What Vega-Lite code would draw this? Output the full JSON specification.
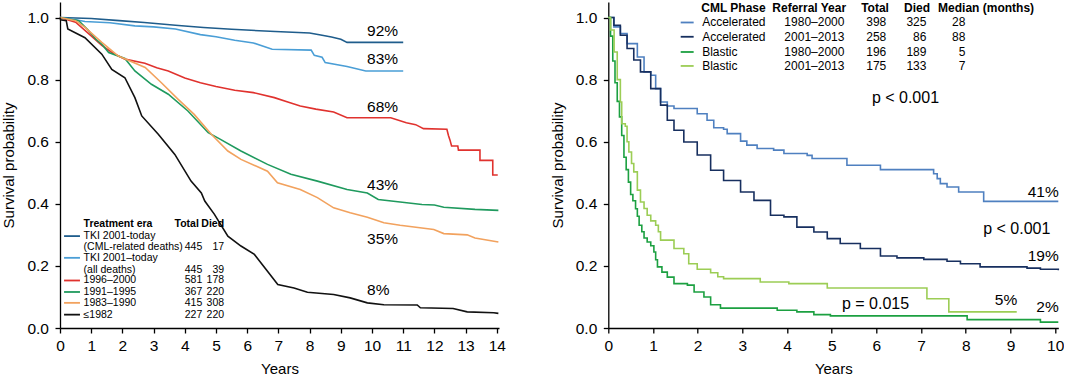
{
  "$schema": "https://vega.github.io/schema/vega-lite/v6.json",
  "padding": {"left": 1, "top": 1, "right": 0, "bottom": 0},
  "background": "white",
  "spacing": 109.3,
  "bounds": "flush",
  "resolve": {"scale": {"color": "independent"}},
  "config": {
    "font": "Liberation Sans",
    "view": {"stroke": null},
    "axis": {
      "domainColor": "black", "domainWidth": 1.3, "tickColor": "black", "tickWidth": 1.3, "tickSize": 5,
      "labelFontSize": 15.5, "labelColor": "black", "titleFontSize": 15, "titleFontWeight": "normal", "titleColor": "black",
      "grid": false, "labelFont": "Liberation Sans", "titleFont": "Liberation Sans", "labelOverlap": false
    },
    "axisY": {"labelPadding": 6.5, "titlePadding": 10},
    "axisX": {"labelPadding": 5, "titlePadding": 8, "labelFlush": false},
    "text": {"font": "Liberation Sans", "color": "black", "baseline": "middle"}
  },
  "datasets": {
    "left": [
      {"series":"TKI CML","t":0,"s":1.0},{"series":"TKI CML","t":1.0,"s":0.997},{"series":"TKI CML","t":1.9,"s":0.99},{"series":"TKI CML","t":2.7,"s":0.984},{"series":"TKI CML","t":3.7,"s":0.975},{"series":"TKI CML","t":4.6,"s":0.968},{"series":"TKI CML","t":5.5,"s":0.962},{"series":"TKI CML","t":6.9,"s":0.955},{"series":"TKI CML","t":8.0,"s":0.95},{"series":"TKI CML","t":8.4,"s":0.943},{"series":"TKI CML","t":8.7,"s":0.937},{"series":"TKI CML","t":9.0,"s":0.93},{"series":"TKI CML","t":9.2,"s":0.92},{"series":"TKI CML","t":11.0,"s":0.92},
      {"series":"TKI all","t":0,"s":1.0},{"series":"TKI all","t":0.5,"s":0.993},{"series":"TKI all","t":0.8,"s":0.987},{"series":"TKI all","t":1.6,"s":0.983},{"series":"TKI all","t":2.4,"s":0.973},{"series":"TKI all","t":3.0,"s":0.97},{"series":"TKI all","t":3.7,"s":0.963},{"series":"TKI all","t":4.5,"s":0.945},{"series":"TKI all","t":5.0,"s":0.938},{"series":"TKI all","t":5.6,"s":0.927},{"series":"TKI all","t":6.2,"s":0.918},{"series":"TKI all","t":6.8,"s":0.898},{"series":"TKI all","t":8.05,"s":0.895},{"series":"TKI all","t":8.15,"s":0.878},{"series":"TKI all","t":8.4,"s":0.872},{"series":"TKI all","t":8.5,"s":0.855},{"series":"TKI all","t":9.2,"s":0.842},{"series":"TKI all","t":9.8,"s":0.828},{"series":"TKI all","t":11.0,"s":0.828},
      {"series":"1996","t":0,"s":1.0},{"series":"1996","t":0.5,"s":0.985},{"series":"1996","t":0.9,"s":0.95},{"series":"1996","t":1.34,"s":0.91},{"series":"1996","t":1.7,"s":0.885},{"series":"1996","t":2.08,"s":0.866},{"series":"1996","t":2.72,"s":0.853},{"series":"1996","t":3.1,"s":0.838},{"series":"1996","t":3.47,"s":0.828},{"series":"1996","t":4.0,"s":0.805},{"series":"1996","t":4.5,"s":0.79},{"series":"1996","t":5.0,"s":0.778},{"series":"1996","t":5.6,"s":0.766},{"series":"1996","t":6.2,"s":0.758},{"series":"1996","t":6.87,"s":0.742},{"series":"1996","t":7.3,"s":0.728},{"series":"1996","t":7.7,"s":0.715},{"series":"1996","t":8.2,"s":0.705},{"series":"1996","t":8.77,"s":0.696},{"series":"1996","t":9.2,"s":0.677},{"series":"1996","t":10.6,"s":0.677},{"series":"1996","t":11.1,"s":0.661},{"series":"1996","t":11.4,"s":0.655},{"series":"1996","t":11.65,"s":0.642},{"series":"1996","t":12.4,"s":0.64},{"series":"1996","t":12.45,"s":0.62},{"series":"1996","t":12.5,"s":0.605},{"series":"1996","t":12.55,"s":0.586},{"series":"1996","t":12.75,"s":0.586},{"series":"1996","t":12.77,"s":0.573},{"series":"1996","t":13.46,"s":0.573},{"series":"1996","t":13.46,"s":0.54},{"series":"1996","t":13.87,"s":0.54},{"series":"1996","t":13.87,"s":0.493},{"series":"1996","t":14.03,"s":0.493},
      {"series":"1991","t":0,"s":1.0},{"series":"1991","t":0.6,"s":0.99},{"series":"1991","t":0.9,"s":0.96},{"series":"1991","t":1.15,"s":0.93},{"series":"1991","t":1.34,"s":0.914},{"series":"1991","t":1.56,"s":0.887},{"series":"1991","t":2.08,"s":0.868},{"series":"1991","t":2.4,"s":0.828},{"series":"1991","t":2.93,"s":0.785},{"series":"1991","t":3.47,"s":0.753},{"series":"1991","t":4.1,"s":0.699},{"series":"1991","t":4.75,"s":0.629},{"series":"1991","t":5.1,"s":0.61},{"series":"1991","t":5.8,"s":0.57},{"series":"1991","t":6.65,"s":0.527},{"series":"1991","t":7.4,"s":0.495},{"series":"1991","t":8.25,"s":0.473},{"series":"1991","t":9.2,"s":0.446},{"series":"1991","t":9.85,"s":0.435},{"series":"1991","t":10.2,"s":0.414},{"series":"1991","t":10.9,"s":0.406},{"series":"1991","t":11.6,"s":0.398},{"series":"1991","t":12.0,"s":0.396},{"series":"1991","t":12.3,"s":0.389},{"series":"1991","t":13.3,"s":0.382},{"series":"1991","t":14.05,"s":0.379},
      {"series":"1983","t":0,"s":1.0},{"series":"1983","t":0.5,"s":0.99},{"series":"1983","t":0.8,"s":0.968},{"series":"1983","t":1.34,"s":0.92},{"series":"1983","t":1.87,"s":0.876},{"series":"1983","t":2.73,"s":0.839},{"series":"1983","t":3.25,"s":0.79},{"series":"1983","t":3.78,"s":0.737},{"series":"1983","t":4.3,"s":0.688},{"series":"1983","t":4.85,"s":0.624},{"series":"1983","t":5.38,"s":0.57},{"series":"1983","t":5.8,"s":0.543},{"series":"1983","t":6.65,"s":0.505},{"series":"1983","t":6.97,"s":0.468},{"series":"1983","t":7.7,"s":0.446},{"series":"1983","t":8.25,"s":0.42},{"series":"1983","t":8.77,"s":0.387},{"series":"1983","t":9.3,"s":0.371},{"series":"1983","t":9.85,"s":0.357},{"series":"1983","t":10.38,"s":0.339},{"series":"1983","t":10.9,"s":0.331},{"series":"1983","t":11.98,"s":0.317},{"series":"1983","t":12.3,"s":0.304},{"series":"1983","t":13.05,"s":0.3},{"series":"1983","t":13.3,"s":0.29},{"series":"1983","t":14.05,"s":0.277},
      {"series":"1982","t":0,"s":1.0},{"series":"1982","t":0.02,"s":0.993},{"series":"1982","t":0.2,"s":0.99},{"series":"1982","t":0.25,"s":0.963},{"series":"1982","t":0.8,"s":0.935},{"series":"1982","t":1.34,"s":0.882},{"series":"1982","t":1.66,"s":0.833},{"series":"1982","t":2.08,"s":0.806},{"series":"1982","t":2.4,"s":0.742},{"series":"1982","t":2.62,"s":0.683},{"series":"1982","t":3.15,"s":0.624},{"series":"1982","t":3.68,"s":0.559},{"series":"1982","t":4.2,"s":0.473},{"series":"1982","t":4.53,"s":0.435},{"series":"1982","t":4.64,"s":0.409},{"series":"1982","t":4.95,"s":0.366},{"series":"1982","t":5.38,"s":0.296},{"series":"1982","t":5.8,"s":0.264},{"series":"1982","t":6.23,"s":0.237},{"series":"1982","t":6.65,"s":0.183},{"series":"1982","t":6.98,"s":0.14},{"series":"1982","t":7.5,"s":0.129},{"series":"1982","t":7.93,"s":0.115},{"series":"1982","t":8.77,"s":0.108},{"series":"1982","t":9.3,"s":0.097},{"series":"1982","t":9.85,"s":0.081},{"series":"1982","t":10.38,"s":0.075},{"series":"1982","t":11.45,"s":0.074},{"series":"1982","t":11.55,"s":0.065},{"series":"1982","t":12.6,"s":0.063},{"series":"1982","t":13.05,"s":0.052},{"series":"1982","t":13.9,"s":0.049},{"series":"1982","t":14.05,"s":0.047}
    ],
    "right": [
      {"phase":"A1980","t":0,"s":1.0},{"phase":"A1980","t":0.125,"s":0.97},{"phase":"A1980","t":0.27,"s":0.948},{"phase":"A1980","t":0.42,"s":0.916},{"phase":"A1980","t":0.65,"s":0.873},{"phase":"A1980","t":0.8,"s":0.825},{"phase":"A1980","t":0.95,"s":0.814},{"phase":"A1980","t":1.06,"s":0.771},{"phase":"A1980","t":1.17,"s":0.728},{"phase":"A1980","t":1.32,"s":0.715},{"phase":"A1980","t":1.47,"s":0.707},{"phase":"A1980","t":1.99,"s":0.69},{"phase":"A1980","t":2.21,"s":0.669},{"phase":"A1980","t":2.36,"s":0.645},{"phase":"A1980","t":2.58,"s":0.64},{"phase":"A1980","t":2.66,"s":0.626},{"phase":"A1980","t":2.96,"s":0.602},{"phase":"A1980","t":3.1,"s":0.589},{"phase":"A1980","t":3.33,"s":0.578},{"phase":"A1980","t":3.7,"s":0.573},{"phase":"A1980","t":3.93,"s":0.562},{"phase":"A1980","t":4.45,"s":0.556},{"phase":"A1980","t":4.56,"s":0.546},{"phase":"A1980","t":5.34,"s":0.524},{"phase":"A1980","t":6.09,"s":0.51},{"phase":"A1980","t":7.28,"s":0.497},{"phase":"A1980","t":7.36,"s":0.481},{"phase":"A1980","t":7.43,"s":0.465},{"phase":"A1980","t":7.58,"s":0.454},{"phase":"A1980","t":7.84,"s":0.438},{"phase":"A1980","t":8.4,"s":0.408},{"phase":"A1980","t":10.07,"s":0.408},
      {"phase":"A2001","t":0,"s":1.0},{"phase":"A2001","t":0.125,"s":0.975},{"phase":"A2001","t":0.27,"s":0.943},{"phase":"A2001","t":0.42,"s":0.9},{"phase":"A2001","t":0.57,"s":0.863},{"phase":"A2001","t":0.72,"s":0.825},{"phase":"A2001","t":0.95,"s":0.771},{"phase":"A2001","t":1.17,"s":0.718},{"phase":"A2001","t":1.32,"s":0.669},{"phase":"A2001","t":1.47,"s":0.637},{"phase":"A2001","t":1.69,"s":0.599},{"phase":"A2001","t":1.99,"s":0.557},{"phase":"A2001","t":2.29,"s":0.508},{"phase":"A2001","t":2.58,"s":0.475},{"phase":"A2001","t":2.96,"s":0.438},{"phase":"A2001","t":3.26,"s":0.411},{"phase":"A2001","t":3.63,"s":0.363},{"phase":"A2001","t":3.93,"s":0.358},{"phase":"A2001","t":4.22,"s":0.325},{"phase":"A2001","t":4.6,"s":0.309},{"phase":"A2001","t":4.9,"s":0.288},{"phase":"A2001","t":5.19,"s":0.272},{"phase":"A2001","t":5.64,"s":0.256},{"phase":"A2001","t":6.09,"s":0.232},{"phase":"A2001","t":6.46,"s":0.226},{"phase":"A2001","t":7.06,"s":0.221},{"phase":"A2001","t":7.58,"s":0.215},{"phase":"A2001","t":7.88,"s":0.207},{"phase":"A2001","t":8.32,"s":0.197},{"phase":"A2001","t":9.37,"s":0.193},{"phase":"A2001","t":9.67,"s":0.189},{"phase":"A2001","t":10.07,"s":0.186},
      {"phase":"B1980","t":0,"s":1.0},{"phase":"B1980","t":0.05,"s":0.94},{"phase":"B1980","t":0.1,"s":0.86},{"phase":"B1980","t":0.15,"s":0.79},{"phase":"B1980","t":0.2,"s":0.73},{"phase":"B1980","t":0.25,"s":0.68},{"phase":"B1980","t":0.3,"s":0.62},{"phase":"B1980","t":0.35,"s":0.55},{"phase":"B1980","t":0.4,"s":0.51},{"phase":"B1980","t":0.45,"s":0.47},{"phase":"B1980","t":0.5,"s":0.43},{"phase":"B1980","t":0.55,"s":0.41},{"phase":"B1980","t":0.61,"s":0.384},{"phase":"B1980","t":0.65,"s":0.36},{"phase":"B1980","t":0.69,"s":0.331},{"phase":"B1980","t":0.75,"s":0.31},{"phase":"B1980","t":0.8,"s":0.29},{"phase":"B1980","t":0.87,"s":0.277},{"phase":"B1980","t":0.95,"s":0.265},{"phase":"B1980","t":1.02,"s":0.245},{"phase":"B1980","t":1.06,"s":0.22},{"phase":"B1980","t":1.1,"s":0.197},{"phase":"B1980","t":1.2,"s":0.18},{"phase":"B1980","t":1.32,"s":0.164},{"phase":"B1980","t":1.47,"s":0.143},{"phase":"B1980","t":1.77,"s":0.138},{"phase":"B1980","t":1.92,"s":0.116},{"phase":"B1980","t":2.14,"s":0.1},{"phase":"B1980","t":2.29,"s":0.075},{"phase":"B1980","t":2.51,"s":0.064},{"phase":"B1980","t":3.63,"s":0.064},{"phase":"B1980","t":3.78,"s":0.057},{"phase":"B1980","t":4.22,"s":0.052},{"phase":"B1980","t":4.6,"s":0.043},{"phase":"B1980","t":4.97,"s":0.039},{"phase":"B1980","t":8.03,"s":0.027},{"phase":"B1980","t":9.67,"s":0.019},{"phase":"B1980","t":10.07,"s":0.019},
      {"phase":"B2001","t":0,"s":1.0},{"phase":"B2001","t":0.05,"s":0.96},{"phase":"B2001","t":0.13,"s":0.889},{"phase":"B2001","t":0.2,"s":0.8},{"phase":"B2001","t":0.27,"s":0.728},{"phase":"B2001","t":0.3,"s":0.658},{"phase":"B2001","t":0.38,"s":0.65},{"phase":"B2001","t":0.42,"s":0.6},{"phase":"B2001","t":0.46,"s":0.567},{"phase":"B2001","t":0.52,"s":0.53},{"phase":"B2001","t":0.57,"s":0.503},{"phase":"B2001","t":0.65,"s":0.444},{"phase":"B2001","t":0.72,"s":0.406},{"phase":"B2001","t":0.8,"s":0.385},{"phase":"B2001","t":0.87,"s":0.363},{"phase":"B2001","t":0.95,"s":0.345},{"phase":"B2001","t":1.06,"s":0.331},{"phase":"B2001","t":1.12,"s":0.31},{"phase":"B2001","t":1.17,"s":0.283},{"phase":"B2001","t":1.47,"s":0.256},{"phase":"B2001","t":1.69,"s":0.239},{"phase":"B2001","t":1.8,"s":0.207},{"phase":"B2001","t":1.99,"s":0.189},{"phase":"B2001","t":2.29,"s":0.178},{"phase":"B2001","t":2.45,"s":0.165},{"phase":"B2001","t":2.58,"s":0.159},{"phase":"B2001","t":3.4,"s":0.148},{"phase":"B2001","t":4.04,"s":0.143},{"phase":"B2001","t":4.9,"s":0.129},{"phase":"B2001","t":7.13,"s":0.094},{"phase":"B2001","t":7.62,"s":0.052},{"phase":"B2001","t":9.14,"s":0.052}
    ],
    "leftSwatch": [
      {"series":"TKI CML","x1":0.13,"x2":0.64,"y":0.296},
      {"series":"TKI all","x1":0.13,"x2":0.64,"y":0.226},
      {"series":"1996","x1":0.13,"x2":0.64,"y":0.153},
      {"series":"1991","x1":0.13,"x2":0.64,"y":0.116},
      {"series":"1983","x1":0.13,"x2":0.64,"y":0.081},
      {"series":"1982","x1":0.13,"x2":0.64,"y":0.043}
    ],
    "leftText": [
      {"kind":"headL","label":"Treatment era","x":0.756,"y":0.334},
      {"kind":"headR","label":"Total","x":4.45,"y":0.334},
      {"kind":"headR","label":"Died","x":5.26,"y":0.334},
      {"kind":"L","label":"TKI 2001-today","x":0.756,"y":0.296},
      {"kind":"L","label":"(CML-related deaths)","x":0.756,"y":0.261},
      {"kind":"L","label":"TKI 2001–today","x":0.756,"y":0.226},
      {"kind":"L","label":"(all deaths)","x":0.756,"y":0.188},
      {"kind":"L","label":"1996–2000","x":0.756,"y":0.153},
      {"kind":"L","label":"1991–1995","x":0.756,"y":0.116},
      {"kind":"L","label":"1983–1990","x":0.756,"y":0.081},
      {"kind":"L","label":"≤1982","x":0.756,"y":0.043},
      {"kind":"R","label":"445","x":4.56,"y":0.261},{"kind":"R","label":"17","x":5.26,"y":0.261},
      {"kind":"R","label":"445","x":4.56,"y":0.188},{"kind":"R","label":"39","x":5.26,"y":0.188},
      {"kind":"R","label":"581","x":4.56,"y":0.153},{"kind":"R","label":"178","x":5.26,"y":0.153},
      {"kind":"R","label":"367","x":4.56,"y":0.116},{"kind":"R","label":"220","x":5.26,"y":0.116},
      {"kind":"R","label":"415","x":4.56,"y":0.081},{"kind":"R","label":"308","x":5.26,"y":0.081},
      {"kind":"R","label":"227","x":4.56,"y":0.043},{"kind":"R","label":"220","x":5.26,"y":0.043}
    ],
    "leftPct": [
      {"label":"92%","x":9.84,"y":0.957},
      {"label":"83%","x":9.84,"y":0.867},
      {"label":"68%","x":9.84,"y":0.711},
      {"label":"43%","x":9.84,"y":0.46},
      {"label":"35%","x":9.84,"y":0.288},
      {"label":"8%","x":9.84,"y":0.124}
    ],
    "rightSwatch": [
      {"phase":"A1980","x1":1.62,"x2":1.91,"y":0.984},
      {"phase":"A2001","x1":1.62,"x2":1.91,"y":0.938},
      {"phase":"B1980","x1":1.62,"x2":1.91,"y":0.889},
      {"phase":"B2001","x1":1.62,"x2":1.91,"y":0.844}
    ],
    "rightText": [
      {"kind":"headL","label":"CML Phase","x":2.08,"y":1.032},
      {"kind":"headL","label":"Referral Year","x":3.67,"y":1.032},
      {"kind":"headR","label":"Total","x":6.28,"y":1.032},
      {"kind":"headR","label":"Died","x":7.2,"y":1.032},
      {"kind":"headL","label":"Median (months)","x":7.38,"y":1.032},
      {"kind":"L","label":"Accelerated","x":2.1,"y":0.984},{"kind":"L","label":"1980–2000","x":3.94,"y":0.984},
      {"kind":"L","label":"Accelerated","x":2.1,"y":0.938},{"kind":"L","label":"2001–2013","x":3.94,"y":0.938},
      {"kind":"L","label":"Blastic","x":2.1,"y":0.889},{"kind":"L","label":"1980–2000","x":3.94,"y":0.889},
      {"kind":"L","label":"Blastic","x":2.1,"y":0.844},{"kind":"L","label":"2001–2013","x":3.94,"y":0.844},
      {"kind":"R","label":"398","x":6.22,"y":0.984},{"kind":"R","label":"325","x":7.12,"y":0.984},{"kind":"R","label":"28","x":7.99,"y":0.984},
      {"kind":"R","label":"258","x":6.22,"y":0.938},{"kind":"R","label":"86","x":7.12,"y":0.938},{"kind":"R","label":"88","x":7.99,"y":0.938},
      {"kind":"R","label":"196","x":6.22,"y":0.889},{"kind":"R","label":"189","x":7.12,"y":0.889},{"kind":"R","label":"5","x":7.99,"y":0.889},
      {"kind":"R","label":"175","x":6.22,"y":0.844},{"kind":"R","label":"133","x":7.12,"y":0.844},{"kind":"R","label":"7","x":7.99,"y":0.844}
    ],
    "rightPct": [
      {"label":"41%","x":10.08,"y":0.438},
      {"label":"19%","x":10.08,"y":0.232},
      {"label":"5%","x":9.15,"y":0.089},
      {"label":"2%","x":10.08,"y":0.068}
    ],
    "rightP": [
      {"label":"p < 0.001","x":6.65,"y":0.742},
      {"label":"p < 0.001","x":9.14,"y":0.32},
      {"label":"p = 0.015","x":5.98,"y":0.078}
    ]
  },
  "hconcat": [
    {
      "width": 439,
      "height": 326,
      "layer": [
        {
          "data": {"name": "left"},
          "mark": {"type": "line", "interpolate": "linear", "strokeWidth": 1.6},
          "encoding": {
            "x": {"field": "t", "type": "quantitative", "scale": {"domain": [0, 14.07], "nice": false, "zero": false},
                  "axis": {"values": [0,1,2,3,4,5,6,7,8,9,10,11,12,13,14], "title": "Years", "labelOverlap": false, "labelFlush": false}},
            "y": {"field": "s", "type": "quantitative", "scale": {"domain": [0, 1.05], "nice": false},
                  "axis": {"values": [0,0.2,0.4,0.6,0.8,1.0], "format": ".1f", "title": "Survival probability"}},
            "color": {"field": "series", "type": "nominal",
                      "scale": {"domain": ["TKI CML","TKI all","1996","1991","1983","1982"],
                                "range": ["#1f5d8c","#4a9ed6","#e0322e","#1f9a5e","#f2a25e","#111111"]},
                      "legend": null}
          }
        },
        {
          "data": {"name": "leftSwatch"},
          "mark": {"type": "rule", "strokeWidth": 1.8},
          "encoding": {
            "x": {"field": "x1", "type": "quantitative", "axis": {"values": [0,1,2,3,4,5,6,7,8,9,10,11,12,13,14], "title": "Years", "labelOverlap": false, "labelFlush": false}},
            "x2": {"field": "x2"},
            "y": {"field": "y", "type": "quantitative", "axis": {"values": [0,0.2,0.4,0.6,0.8,1.0], "format": ".1f", "title": "Survival probability"}},
            "color": {"field": "series", "type": "nominal", "legend": null}
          }
        },
        {
          "data": {"name": "leftText"},
          "transform": [{"filter": "datum.kind === 'headL'"}],
          "mark": {"type": "text", "align": "left", "fontSize": 10.5, "fontWeight": "bold"},
          "encoding": {"x": {"field": "x", "type": "quantitative", "axis": {"values": [0,1,2,3,4,5,6,7,8,9,10,11,12,13,14], "title": "Years", "labelOverlap": false, "labelFlush": false}}, "y": {"field": "y", "type": "quantitative", "axis": {"values": [0,0.2,0.4,0.6,0.8,1.0], "format": ".1f", "title": "Survival probability"}}, "text": {"field": "label"}}
        },
        {
          "data": {"name": "leftText"},
          "transform": [{"filter": "datum.kind === 'headR'"}],
          "mark": {"type": "text", "align": "right", "fontSize": 10.5, "fontWeight": "bold"},
          "encoding": {"x": {"field": "x", "type": "quantitative", "axis": {"values": [0,1,2,3,4,5,6,7,8,9,10,11,12,13,14], "title": "Years", "labelOverlap": false, "labelFlush": false}}, "y": {"field": "y", "type": "quantitative", "axis": {"values": [0,0.2,0.4,0.6,0.8,1.0], "format": ".1f", "title": "Survival probability"}}, "text": {"field": "label"}}
        },
        {
          "data": {"name": "leftText"},
          "transform": [{"filter": "datum.kind === 'L'"}],
          "mark": {"type": "text", "align": "left", "fontSize": 10.5},
          "encoding": {"x": {"field": "x", "type": "quantitative", "axis": {"values": [0,1,2,3,4,5,6,7,8,9,10,11,12,13,14], "title": "Years", "labelOverlap": false, "labelFlush": false}}, "y": {"field": "y", "type": "quantitative", "axis": {"values": [0,0.2,0.4,0.6,0.8,1.0], "format": ".1f", "title": "Survival probability"}}, "text": {"field": "label"}}
        },
        {
          "data": {"name": "leftText"},
          "transform": [{"filter": "datum.kind === 'R'"}],
          "mark": {"type": "text", "align": "right", "fontSize": 10.5},
          "encoding": {"x": {"field": "x", "type": "quantitative", "axis": {"values": [0,1,2,3,4,5,6,7,8,9,10,11,12,13,14], "title": "Years", "labelOverlap": false, "labelFlush": false}}, "y": {"field": "y", "type": "quantitative", "axis": {"values": [0,0.2,0.4,0.6,0.8,1.0], "format": ".1f", "title": "Survival probability"}}, "text": {"field": "label"}}
        },
        {
          "data": {"name": "leftPct"},
          "mark": {"type": "text", "align": "left", "fontSize": 15.5},
          "encoding": {"x": {"field": "x", "type": "quantitative", "axis": {"values": [0,1,2,3,4,5,6,7,8,9,10,11,12,13,14], "title": "Years", "labelOverlap": false, "labelFlush": false}}, "y": {"field": "y", "type": "quantitative", "axis": {"values": [0,0.2,0.4,0.6,0.8,1.0], "format": ".1f", "title": "Survival probability"}}, "text": {"field": "label"}}
        }
      ]
    },
    {
      "width": 450,
      "height": 326,
      "layer": [
        {
          "data": {"name": "right"},
          "mark": {"type": "line", "interpolate": "step-after", "strokeWidth": 1.6},
          "encoding": {
            "x": {"field": "t", "type": "quantitative", "scale": {"domain": [0, 10.07], "nice": false, "zero": false},
                  "axis": {"values": [0,1,2,3,4,5,6,7,8,9,10], "title": "Years", "labelOverlap": false, "labelFlush": false}},
            "y": {"field": "s", "type": "quantitative", "scale": {"domain": [0, 1.05], "nice": false},
                  "axis": {"values": [0,0.2,0.4,0.6,0.8,1.0], "format": ".1f", "title": "Survival probability"}},
            "color": {"field": "phase", "type": "nominal",
                      "scale": {"domain": ["A1980","A2001","B1980","B2001"],
                                "range": ["#4f80c0","#172f5f","#1ca041","#9ccd55"]},
                      "legend": null}
          }
        },
        {
          "data": {"name": "rightSwatch"},
          "mark": {"type": "rule", "strokeWidth": 1.8},
          "encoding": {
            "x": {"field": "x1", "type": "quantitative", "axis": {"values": [0,1,2,3,4,5,6,7,8,9,10], "title": "Years", "labelOverlap": false, "labelFlush": false}},
            "x2": {"field": "x2"},
            "y": {"field": "y", "type": "quantitative", "axis": {"values": [0,0.2,0.4,0.6,0.8,1.0], "format": ".1f", "title": "Survival probability"}},
            "color": {"field": "phase", "type": "nominal", "legend": null}
          }
        },
        {
          "data": {"name": "rightText"},
          "transform": [{"filter": "datum.kind === 'headL'"}],
          "mark": {"type": "text", "align": "left", "fontSize": 12, "fontWeight": "bold"},
          "encoding": {"x": {"field": "x", "type": "quantitative", "axis": {"values": [0,1,2,3,4,5,6,7,8,9,10], "title": "Years", "labelOverlap": false, "labelFlush": false}}, "y": {"field": "y", "type": "quantitative", "axis": {"values": [0,0.2,0.4,0.6,0.8,1.0], "format": ".1f", "title": "Survival probability"}}, "text": {"field": "label"}}
        },
        {
          "data": {"name": "rightText"},
          "transform": [{"filter": "datum.kind === 'headR'"}],
          "mark": {"type": "text", "align": "right", "fontSize": 12, "fontWeight": "bold"},
          "encoding": {"x": {"field": "x", "type": "quantitative", "axis": {"values": [0,1,2,3,4,5,6,7,8,9,10], "title": "Years", "labelOverlap": false, "labelFlush": false}}, "y": {"field": "y", "type": "quantitative", "axis": {"values": [0,0.2,0.4,0.6,0.8,1.0], "format": ".1f", "title": "Survival probability"}}, "text": {"field": "label"}}
        },
        {
          "data": {"name": "rightText"},
          "transform": [{"filter": "datum.kind === 'L'"}],
          "mark": {"type": "text", "align": "left", "fontSize": 12},
          "encoding": {"x": {"field": "x", "type": "quantitative", "axis": {"values": [0,1,2,3,4,5,6,7,8,9,10], "title": "Years", "labelOverlap": false, "labelFlush": false}}, "y": {"field": "y", "type": "quantitative", "axis": {"values": [0,0.2,0.4,0.6,0.8,1.0], "format": ".1f", "title": "Survival probability"}}, "text": {"field": "label"}}
        },
        {
          "data": {"name": "rightText"},
          "transform": [{"filter": "datum.kind === 'R'"}],
          "mark": {"type": "text", "align": "right", "fontSize": 12},
          "encoding": {"x": {"field": "x", "type": "quantitative", "axis": {"values": [0,1,2,3,4,5,6,7,8,9,10], "title": "Years", "labelOverlap": false, "labelFlush": false}}, "y": {"field": "y", "type": "quantitative", "axis": {"values": [0,0.2,0.4,0.6,0.8,1.0], "format": ".1f", "title": "Survival probability"}}, "text": {"field": "label"}}
        },
        {
          "data": {"name": "rightPct"},
          "mark": {"type": "text", "align": "right", "fontSize": 15.5},
          "encoding": {"x": {"field": "x", "type": "quantitative", "axis": {"values": [0,1,2,3,4,5,6,7,8,9,10], "title": "Years", "labelOverlap": false, "labelFlush": false}}, "y": {"field": "y", "type": "quantitative", "axis": {"values": [0,0.2,0.4,0.6,0.8,1.0], "format": ".1f", "title": "Survival probability"}}, "text": {"field": "label"}}
        },
        {
          "data": {"name": "rightP"},
          "mark": {"type": "text", "align": "center", "fontSize": 16},
          "encoding": {"x": {"field": "x", "type": "quantitative", "axis": {"values": [0,1,2,3,4,5,6,7,8,9,10], "title": "Years", "labelOverlap": false, "labelFlush": false}}, "y": {"field": "y", "type": "quantitative", "axis": {"values": [0,0.2,0.4,0.6,0.8,1.0], "format": ".1f", "title": "Survival probability"}}, "text": {"field": "label"}}
        }
      ]
    }
  ]
}
